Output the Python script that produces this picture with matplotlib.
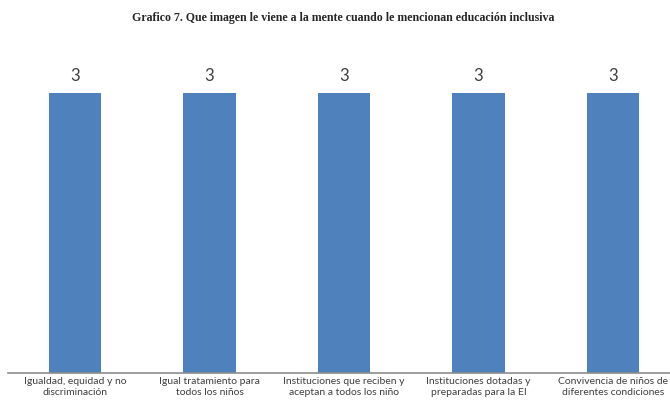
import numpy as np
import matplotlib.pyplot as plt

# datos del grafico
categorias = ['Igualdad, equidad y no\ndiscriminación',
              'Igual tratamiento para\ntodos los niños',
              'Instituciones que reciben y\naceptan a todos los niño',
              'Instituciones dotadas y\npreparadas para la EI',
              'Convivencia de niños de\ndiferentes condiciones']
valores = [3, 3, 3, 3, 3]

titulo = 'Grafico 7. Que imagen le viene a la mente cuando le mencionan educación inclusiva'

fig = plt.figure(figsize=(6.7, 4.11), dpi=100)
W, H = 670.0, 411.0
# eje algo mas ancho que la figura: el original esta recortado a la derecha
ax = fig.add_axes([7.75 / W, 38 / H, 672.5 / W, (373 - 46.3) / H])

x = np.arange(len(categorias))
bars = ax.bar(x, valores, width=0.39, color='#4F81BD')

for b, v in zip(bars, valores):
    ax.text(b.get_x() + b.get_width() / 2, v + 0.1, str(v),
            ha='center', va='bottom', fontsize=12, color='#404040',
            family=['Lato', 'DejaVu Sans'])

ax.set_xlim(-0.5, len(categorias) - 0.5)
ax.set_ylim(0, 3.5)
ax.set_xticks(x)
ax.set_xticklabels(categorias, fontsize=7.5, color='#404040',
                   family=['Lato', 'DejaVu Sans'], linespacing=1.2)
ax.tick_params(axis='x', length=0, pad=3)
ax.set_yticks([])
for s in ['top', 'right', 'left']:
    ax.spines[s].set_visible(False)
ax.spines['bottom'].set_color('#8C8C8C')
ax.spines['bottom'].set_linewidth(1.2)

fig.text(343 / W, 1 - 18 / H, titulo, ha='center', va='center',
         fontsize=8.6, fontweight='bold', color='#262626',
         family=['Liberation Serif', 'DejaVu Serif'])

fig.savefig('out.png', dpi=100)
